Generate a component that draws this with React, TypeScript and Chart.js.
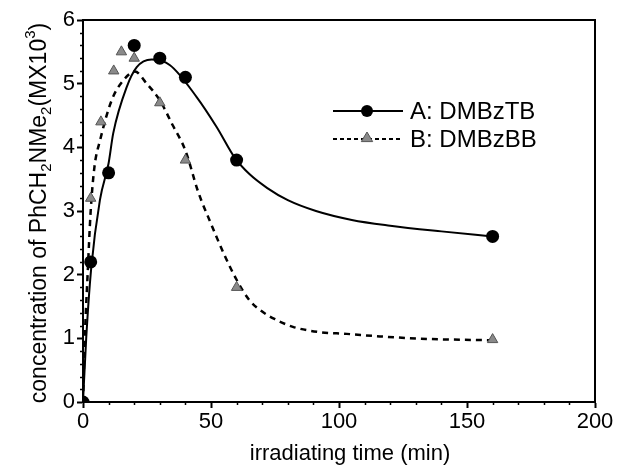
import React, { useEffect, useRef } from 'react';
import { Chart, registerables } from 'chart.js';
Chart.register(...registerables);

const FONT = '"Liberation Sans", Arial, Helvetica, sans-serif';

// measured points
const timeA = [0, 3, 10, 20, 30, 40, 60, 160];
const concA = [0, 2.2, 3.6, 5.6, 5.4, 5.1, 3.8, 2.6];
const timeB = [0, 3, 7, 12, 15, 20, 30, 40, 60, 160];
const concB = [0, 3.2, 4.4, 5.2, 5.5, 5.4, 4.7, 3.8, 1.8, 0.98];

// fitted curves
const fitTimeA = [0, 1.25, 3.2, 6.6, 10, 11.8, 17.1, 21, 26.8, 34, 44.4, 52.2, 59.4, 65, 72, 80, 91, 105, 120, 140, 160];
const fitConcA = [0, 1.0, 2.1, 3.17, 3.75, 4.22, 4.95, 5.26, 5.38, 5.29, 4.79, 4.32, 3.83, 3.58, 3.36, 3.17, 3.0, 2.86, 2.77, 2.68, 2.6];
const fitTimeB = [0, 0.8, 1.8, 3, 4.5, 6.6, 11.2, 15.7, 20.3, 24.9, 30, 35, 40, 45, 50, 55, 60, 65, 70, 75, 82, 92, 103, 116, 135, 160];
const fitConcB = [0, 1.1, 2.0, 3.0, 3.7, 4.1, 4.74, 5.05, 5.19, 5.0, 4.74, 4.35, 3.95, 3.3, 2.8, 2.33, 1.92, 1.6, 1.42, 1.3, 1.18, 1.1, 1.07, 1.03, 0.99, 0.97];

const xTicks = [0, 50, 100, 150, 200];
const yTicks = [0, 1, 2, 3, 4, 5, 6];
const xMinorStep = 10;
const yMinorStep = 0.2;

const seriesLabels = ['A: DMBzTB', 'B: DMBzBB'];
const xTitle = 'irradiating time (min)';

const toPts = (xs: number[], ys: number[]) => xs.map((x, i) => ({ x, y: ys[i] }));

function drawTriangle(ctx: CanvasRenderingContext2D, x: number, y: number, r: number) {
  ctx.beginPath();
  ctx.moveTo(x, y - r);
  ctx.lineTo(x + r * 0.95, y + r * 0.6);
  ctx.lineTo(x - r * 0.95, y + r * 0.6);
  ctx.closePath();
  ctx.fillStyle = '#8a8a8a';
  ctx.fill();
  ctx.lineWidth = 1;
  ctx.strokeStyle = '#555';
  ctx.stroke();
}

export default function App() {
  const ref = useRef<HTMLCanvasElement>(null);
  useEffect(() => {
    if (!ref.current) return;

    const decorations = {
      id: 'decorations',
      afterDraw(chart: any) {
        const ctx: CanvasRenderingContext2D = chart.ctx;
        const { left, right, top, bottom } = chart.chartArea;
        const xs = chart.scales.x;
        const ys = chart.scales.y;
        ctx.save();
        // frame
        ctx.strokeStyle = '#000';
        ctx.lineWidth = 2;
        ctx.strokeRect(left, top, right - left, bottom - top);
        // minor ticks
        ctx.lineWidth = 1.5;
        ctx.beginPath();
        const yMax = yTicks[yTicks.length - 1];
        for (let i = 0; i * yMinorStep <= yMax + 1e-9; i++) {
          const v = i * yMinorStep;
          if (Math.abs(v - Math.round(v)) < 1e-6) continue;
          const py = Math.round(ys.getPixelForValue(v)) + 0.5;
          ctx.moveTo(left - 3, py);
          ctx.lineTo(left, py);
        }
        const xMax = xTicks[xTicks.length - 1];
        for (let v = 0; v <= xMax; v += xMinorStep) {
          if (v % 50 === 0) continue;
          const px = Math.round(xs.getPixelForValue(v)) + 0.5;
          ctx.moveTo(px, bottom);
          ctx.lineTo(px, bottom + 3);
        }
        ctx.stroke();

        // x title
        ctx.fillStyle = '#000';
        ctx.font = `22px ${FONT}`;
        ctx.textAlign = 'center';
        ctx.textBaseline = 'alphabetic';
        ctx.fillText(xTitle, 350, 460);

        // y title with sub/superscripts
        const segs: [string, 'n' | 'sub' | 'sup'][] = [
          ['concentration of PhCH', 'n'], ['2', 'sub'], ['NMe', 'n'], ['2', 'sub'], ['(MX10', 'n'], ['3', 'sup'], [')', 'n'],
        ];
        const big = `23px ${FONT}`;
        const small = `15px ${FONT}`;
        let total = 0;
        for (const [t, k] of segs) {
          ctx.font = k === 'n' ? big : small;
          total += ctx.measureText(t).width;
        }
        ctx.translate(46, (top + bottom) / 2 + 2);
        ctx.rotate(-Math.PI / 2);
        ctx.textAlign = 'left';
        let cx = -total / 2;
        for (const [t, k] of segs) {
          ctx.font = k === 'n' ? big : small;
          const dy = k === 'sub' ? 5 : k === 'sup' ? -11 : 0;
          ctx.fillText(t, cx, dy);
          cx += ctx.measureText(t).width;
        }
        ctx.setTransform(1, 0, 0, 1, 0, 0);

        // legend
        const lx0 = 333, lx1 = 403, mx = 367;
        const ly = [111, 139];
        ctx.strokeStyle = '#000';
        ctx.lineWidth = 2;
        ctx.beginPath();
        ctx.moveTo(lx0, ly[0]);
        ctx.lineTo(lx1, ly[0]);
        ctx.stroke();
        ctx.beginPath();
        ctx.arc(mx, ly[0], 6, 0, Math.PI * 2);
        ctx.fillStyle = '#000';
        ctx.fill();
        ctx.setLineDash([4, 3]);
        ctx.lineWidth = 2;
        ctx.beginPath();
        ctx.moveTo(lx0, ly[1]);
        ctx.lineTo(lx1, ly[1]);
        ctx.stroke();
        ctx.setLineDash([]);
        drawTriangle(ctx, mx, ly[1] - 1, 6);
        ctx.fillStyle = '#000';
        ctx.font = `24px ${FONT}`;
        ctx.textAlign = 'left';
        ctx.textBaseline = 'middle';
        ctx.fillText(seriesLabels[0], 410, ly[0] + 1);
        ctx.fillText(seriesLabels[1], 410, ly[1] + 1);
        ctx.restore();
      },
    };

    const tickFont = { size: 22, family: FONT };
    const chart = new Chart(ref.current, {
      type: 'line',
      data: {
        datasets: [
          {
            label: seriesLabels[0],
            data: toPts(timeA, concA),
            showLine: false,
            pointStyle: 'circle',
            pointRadius: 6.5,
            pointBackgroundColor: '#000',
            pointBorderColor: '#000',
            pointBorderWidth: 0,
            order: 0,
          },
          {
            label: seriesLabels[1],
            data: toPts(timeB, concB),
            showLine: false,
            pointStyle: 'triangle',
            pointRadius: 6,
            pointBackgroundColor: '#8a8a8a',
            pointBorderColor: '#555',
            pointBorderWidth: 1,
            order: 0,
          },
          {
            label: 'fitA',
            data: toPts(fitTimeA, fitConcA),
            borderColor: '#000',
            borderWidth: 2,
            pointRadius: 0,
            cubicInterpolationMode: 'monotone',
            fill: false,
            order: 1,
          },
          {
            label: 'fitB',
            data: toPts(fitTimeB, fitConcB),
            borderColor: '#000',
            borderWidth: 2.5,
            borderDash: [6, 5],
            pointRadius: 0,
            cubicInterpolationMode: 'monotone',
            fill: false,
            order: 1,
          },
        ],
      },
      options: {
        responsive: false,
        animation: false,
        events: [],
        layout: { padding: { left: 0, top: 20, right: 26, bottom: 0 } },
        plugins: { legend: { display: false }, tooltip: { enabled: false }, title: { display: false } },
        scales: {
          x: {
            type: 'linear',
            min: xTicks[0],
            max: xTicks[xTicks.length - 1],
            afterBuildTicks: (s: any) => { s.ticks = xTicks.map((v) => ({ value: v })); },
            ticks: { font: tickFont, color: '#000', padding: 1, maxRotation: 0, autoSkip: false },
            grid: { display: true, drawOnChartArea: false, drawTicks: true, tickLength: 6, tickWidth: 2, tickColor: '#000', color: '#000' },
            border: { display: true, color: '#000', width: 2 },
            afterFit: (s: any) => { s.height = 66; },
          },
          y: {
            type: 'linear',
            min: yTicks[0],
            max: yTicks[yTicks.length - 1],
            afterBuildTicks: (s: any) => { s.ticks = yTicks.map((v) => ({ value: v })); },
            ticks: { font: tickFont, color: '#000', padding: 2, autoSkip: false },
            grid: { display: true, drawOnChartArea: false, drawTicks: true, tickLength: 6, tickWidth: 2, tickColor: '#000', color: '#000' },
            border: { display: true, color: '#000', width: 2 },
            afterFit: (s: any) => { s.width = 83; },
          },
        },
      },
      plugins: [decorations],
    } as any);
    return () => chart.destroy();
  }, []);
  return (
    <div style={{ position: 'fixed', left: 0, top: 0, width: 621, height: 468, background: '#fff' }}>
      <canvas ref={ref} width={621} height={468} style={{ display: 'block' }} />
    </div>
  );
}
